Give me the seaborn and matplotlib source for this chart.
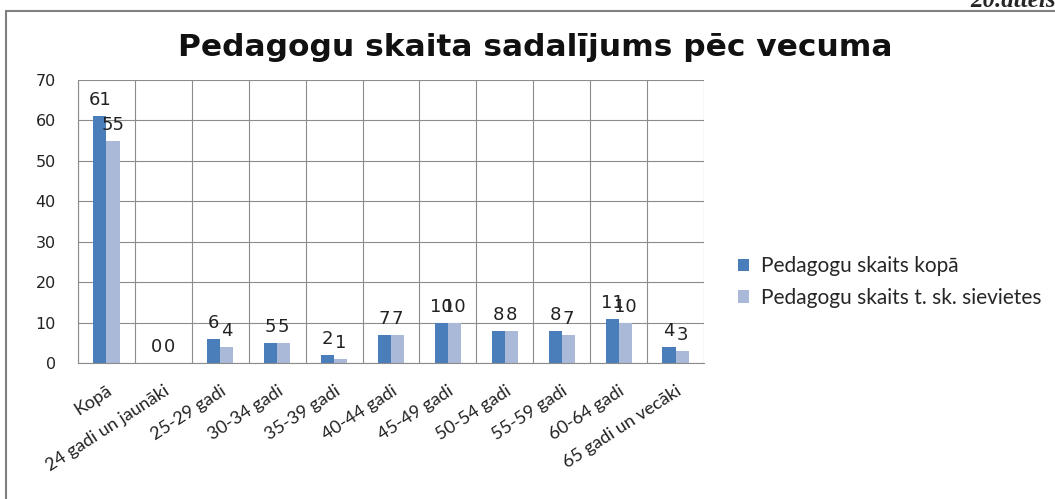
import matplotlib
matplotlib.use("Agg")
import matplotlib.pyplot as plt
import seaborn as sns
import pandas as pd
import numpy as np
from matplotlib.lines import Line2D

categories = ["Kopā", "24 gadi un jaunāki", "25-29 gadi", "30-34 gadi", "35-39 gadi",
              "40-44 gadi", "45-49 gadi", "50-54 gadi", "55-59 gadi", "60-64 gadi",
              "65 gadi un vecāki"]
total = [61, 0, 6, 5, 2, 7, 10, 8, 8, 11, 4]
women = [55, 0, 4, 5, 1, 7, 10, 8, 7, 10, 3]
series_names = ["Pedagogu skaits kopā", "Pedagogu skaits t. sk. sievietes"]
colors = ["#4A7EBB", "#AAB9D8"]
title = "Pedagogu skaita sadalījums pēc vecuma"

df = pd.DataFrame({
    "cat": categories * 2,
    "val": total + women,
    "series": [series_names[0]] * len(categories) + [series_names[1]] * len(categories),
})

sns.set_style("white")
plt.rcParams["font.family"] = ["DejaVu Sans"]

fig = plt.figure(figsize=(10.55, 4.99), dpi=100)
ax = fig.add_axes([78 / 1055, 1 - 363 / 499, (704 - 78) / 1055, (363 - 80) / 499])

sns.barplot(data=df, x="cat", y="val", hue="series", palette=colors, width=0.46,
            ax=ax, saturation=1, legend=True, order=categories, hue_order=series_names,
            linewidth=0, edgecolor="none")

gcol = "#8C8C8C"
ax.set_xlim(-0.5, len(categories) - 0.5)
ax.set_ylim(0, 70)
ax.set_yticks(np.arange(0, 71, 10))
ax.set_xticks(np.arange(-0.5, len(categories), 1), minor=True)
ax.grid(True, axis="y", color=gcol, lw=0.8)
ax.grid(True, axis="x", which="minor", color=gcol, lw=0.8)
ax.set_axisbelow(True)
for s in ["top", "right"]:
    ax.spines[s].set_visible(False)
for s in ["left", "bottom"]:
    ax.spines[s].set_color(gcol)
    ax.spines[s].set_linewidth(0.8)
ax.tick_params(axis="y", length=6, color=gcol, labelsize=11.5, pad=10, labelcolor="#222222")
ax.tick_params(axis="x", which="major", length=0, pad=14)
ax.tick_params(axis="x", which="minor", length=6, color=gcol)
ax.set_xticklabels(categories, rotation=33, ha="right", rotation_mode="anchor",
                   fontsize=13, color="#222222", family="Lato")
ax.set_xlabel("")
ax.set_ylabel("")

for cont in ax.containers:
    ax.bar_label(cont, labels=[f"{int(v)}" for v in cont.datavalues], padding=5,
                 fontsize=13, color="#222222")

h, l = ax.get_legend_handles_labels()
ax.get_legend().remove()
fig.legend(h, l, loc="center left", bbox_to_anchor=(719 / 1055, 1 - 282 / 499),
           frameon=False, handlelength=0.55, handleheight=0.55,
           handletextpad=0.55, labelspacing=0.55,
           prop={"family": "Lato", "size": 15})

fig.suptitle(title, x=535 / 1055, y=1 - 47 / 499, va="center", fontsize=22.5,
             fontweight="bold", color="#111111")

fig.text(970 / 1055, 1 - 7 / 499, "20.attēls", fontsize=18, style="italic",
         fontweight="bold", family="Liberation Serif", va="baseline", ha="left")

fig.add_artist(Line2D([6 / 1055, 6 / 1055], [0, 1 - 11 / 499], color="#7F7F7F", lw=1.5,
                      transform=fig.transFigure))
fig.add_artist(Line2D([6 / 1055, 1], [1 - 11 / 499, 1 - 11 / 499], color="#7F7F7F", lw=1.5,
                      transform=fig.transFigure))

fig.savefig("out.png", dpi=100)
